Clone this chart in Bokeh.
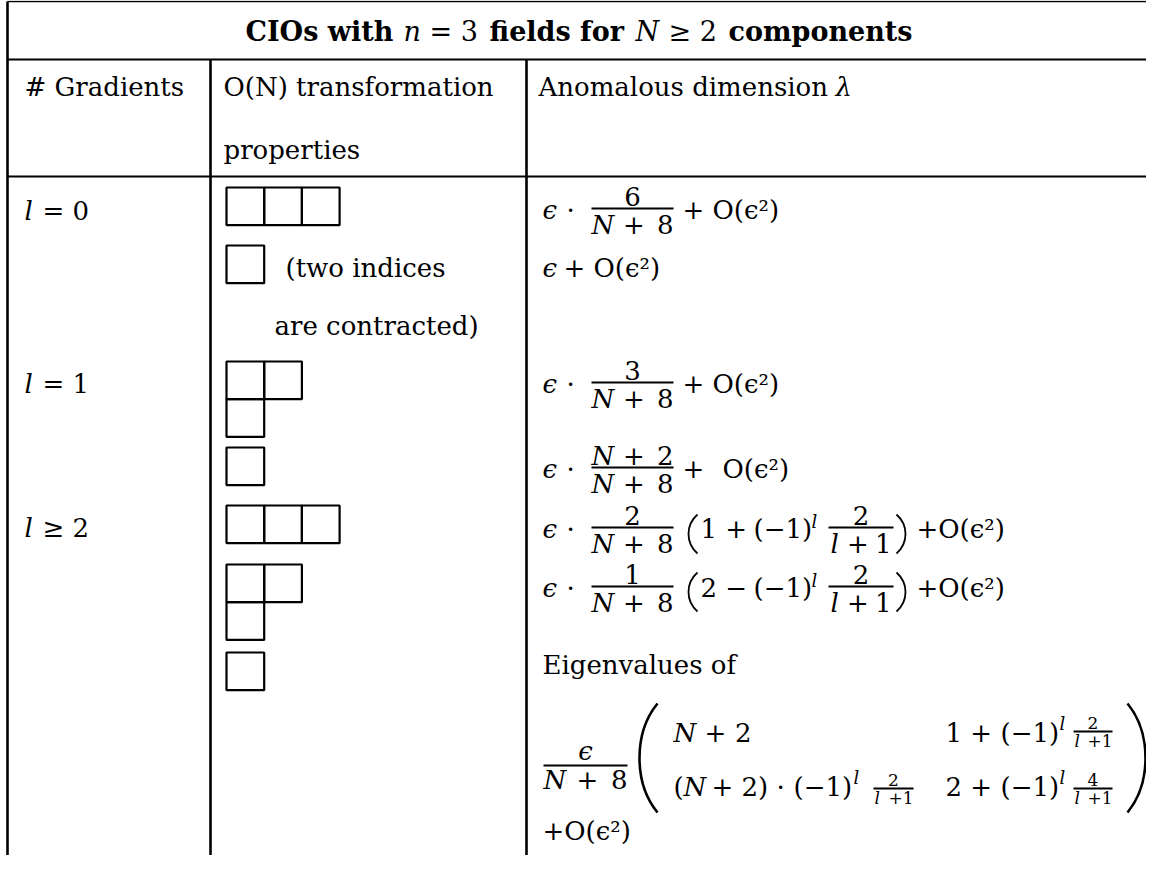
from bokeh.plotting import figure
from bokeh.models import Range1d, ColumnDataSource
from bokeh.core.properties import value, field
from bokeh.embed import file_html
from bokeh.resources import INLINE

# ---------------- table content ----------------
TITLE_PARTS = ["CIOs with", "n", "= 3", "fields for", "N", "≥ 2", "components"]
HEADERS = ["# Gradients", "O(N) transformation", "properties", "Anomalous dimension", "λ"]
GRAD_VAR = "l"
GRAD_RELATIONS = ["= 0", "= 1", "≥ 2"]
YOUNG_SHAPES = [[3], [1], [2, 1], [1], [3], [2, 1], [1]]
NOTE_LINES = ["(two indices", "are contracted)"]
EPS = "ϵ"
CDOT = "·"
PLUS_ORDER = "+ O(ϵ²)"
ORDER = "O(ϵ²)"
PLUS = "+"
PLUS_ORDER_TIGHT = "+O(ϵ²)"
LEAD_NUMERATORS = ["6", "3", "N + 2", "2", "1"]
DENOM = "N + 8"
PAREN_HEADS = ["1 +", "2 −"]
SIGN = "(−1)"
SUP = "l"
INNER_NUM = "2"
INNER_DEN = "l + 1"
EIGEN_TEXT = "Eigenvalues of"
MATRIX_R1 = ["N + 2", "1 +", "2"]
MATRIX_R2 = ["(", "N + 2)", "·", "2", "2 +", "4"]
SMALL_DEN_REST = "+1"

# ---------------- layout (pixel space of the picture) ----------------
W, H = 1146, 855
FONT = "DejaVu Serif"
BODY = 26
TITLE = 27
SUPSZ = 18
SMALL = 17
NUM_GAP = 4
BASE_SHIFT = 0.3  # renderer places glyphs slightly below the requested baseline

segs = []


def put(x, y, t, style="normal", size=BODY, align="left"):
    segs.append((x, y, t, style, size, align))


bars = []      # fraction rules: x0, x1, y
parens = []    # (x_end, x_ctrl, y_top, y_bottom)


def bar(x0, x1, y):
    bars.append((x0, x1, y))


def binexpr(expr, y, x_var, x_op, x_right, size=BODY):
    """'N + 8' style expression: italic variable, operator, right-aligned rest."""
    var, op, rest = expr.split(" ", 2)
    put(x_var, y, var, "italic", size)
    put(x_op, y, op, "normal", size, "center")
    put(x_right, y, rest, "normal", size, "right")


# title (segments laid out left to right)
tx = [245, 403, 429, 489, 635, 668, 728]
tst = ["bold", "italic", "normal", "bold", "italic", "normal", "bold"]
for x, t, s in zip(tx, TITLE_PARTS, tst):
    put(x, 39, t, s, TITLE)

# header row
put(24, 94, HEADERS[0])
put(223, 94, HEADERS[1])
put(223, 157, HEADERS[2])
put(538, 94, HEADERS[3])
put(835, 94, HEADERS[4], "italic")

# gradient labels
for yb, rel in zip([218, 391, 535], GRAD_RELATIONS):
    put(24, yb, GRAD_VAR, "italic")
    put(42, yb, rel)

# note
put(285, 275, NOTE_LINES[0])
put(274, 333, NOTE_LINES[1])


def lead(bar_y, num):
    main = bar_y + 9
    put(542, main, EPS, "italic")
    put(566, main, CDOT)
    bar(591, 673, bar_y)
    if num.startswith("N"):
        binexpr(num, bar_y - NUM_GAP, 591, 633.5, 673)
    else:
        put(632, bar_y - NUM_GAP, num, "normal", BODY, "center")
    binexpr(DENOM, bar_y + 24, 591, 633.5, 673)
    return main


m = lead(208, LEAD_NUMERATORS[0])
put(682, m, PLUS_ORDER)
put(542, 275, EPS, "italic")
put(563, 275, PLUS_ORDER)
m = lead(382, LEAD_NUMERATORS[1])
put(682, m, PLUS_ORDER)
m = lead(467, LEAD_NUMERATORS[2])
put(682, m, PLUS)
put(722, m, ORDER)


def paren_line(bar_y, num, head, p_top, p_bot):
    m = lead(bar_y, num)
    parens.append((697, 685, p_top, p_bot))
    put(700, m, head)
    put(753, m, SIGN)
    put(811, m - 10, SUP, "italic", SUPSZ)
    bar(828, 893, bar_y)
    put(860.5, bar_y - NUM_GAP, INNER_NUM, "normal", BODY, "center")
    binexpr(INNER_DEN, bar_y + 24, 830, 857.5, 891)
    parens.append((896, 908, p_top, p_bot))
    put(916, m, PLUS_ORDER_TIGHT)


paren_line(527, LEAD_NUMERATORS[3], PAREN_HEADS[0], 514, 553)
paren_line(586, LEAD_NUMERATORS[4], PAREN_HEADS[1], 572, 611)

put(542, 672, EIGEN_TEXT)

# matrix prefactor
bar(543, 627, 765)
put(585, 765 - 7, EPS, "italic", BODY, "center")
binexpr(DENOM, 787, 543, 587, 627)


def small_frac(x0, x1, bar_y, num):
    bar(x0, x1, bar_y)
    put((x0 + x1) / 2, bar_y - 3, num, "normal", SMALL, "center")
    put(x0 + 1, bar_y + 15, SUP, "italic", SMALL)
    put(x1, bar_y + 15, SMALL_DEN_REST, "normal", SMALL, "right")


r1, r2 = 740, 794
binexpr(MATRIX_R1[0], r1, 673, 715, 751)
put(945, r1, MATRIX_R1[1])
put(1000, r1, SIGN)
put(1059, r1 - 12, SUP, "italic", SUPSZ)
small_frac(1073, 1112, 731, MATRIX_R1[2])

put(673, r2, MATRIX_R2[0])
var2, op2, rest2 = MATRIX_R2[1].split(" ", 2)
put(683, r2, var2, "italic")
put(722, r2, op2, "normal", BODY, "center")
put(741, r2, rest2)
put(776, r2, MATRIX_R2[2])
put(793, r2, SIGN)
put(853, r2 - 12, SUP, "italic", SUPSZ)
small_frac(873, 913, 788, MATRIX_R2[3])
put(945, r2, MATRIX_R2[4])
put(1000, r2, SIGN)
put(1059, r2 - 12, SUP, "italic", SUPSZ)
small_frac(1073, 1112, 788, MATRIX_R2[5])

put(542, 838, PLUS_ORDER_TIGHT)

# big matrix parentheses
parens.append((657, 633, 703, 812))
parens.append((1127, 1151, 703, 812))

# ---------------- figure ----------------
p = figure(width=W, height=H, x_range=Range1d(0, W), y_range=Range1d(H, 0),
           output_backend="svg", toolbar_location=None,
           x_axis_location=None, y_axis_location=None, min_border=0)
p.grid.visible = False
p.outline_line_color = None
p.background_fill_color = "white"
p.border_fill_color = "white"

# rules of the table
h_y = [1, 59, 176]
h_w = [1.4, 2.0, 2.0]
for y, w in zip(h_y, h_w):
    p.segment(x0=[7], y0=[y], x1=[W], y1=[y], line_color="black", line_width=w)
v_x = [7, 210, 526]
v_top = [1, 59, 59]
for x, t in zip(v_x, v_top):
    p.segment(x0=[x], y0=[t], x1=[x], y1=[H], line_color="black", line_width=2.6)

# Young diagrams
BOX = 37.7
tops = [187, 245, 361, 447, 505, 564, 652]
L, R, T, B = [], [], [], []
for shape, top in zip(YOUNG_SHAPES, tops):
    for ri, n in enumerate(shape):
        for ci in range(n):
            L.append(226 + ci * BOX)
            R.append(226 + (ci + 1) * BOX)
            T.append(top + ri * BOX)
            B.append(top + (ri + 1) * BOX)
p.quad(left=L, right=R, top=T, bottom=B, fill_color=None, line_color="black", line_width=2.2)

# fraction bars
p.segment(x0=[b[0] for b in bars], y0=[b[2] for b in bars],
          x1=[b[1] for b in bars], y1=[b[2] for b in bars],
          line_color="black", line_width=1.8)

# parentheses drawn as curves
px_end = [q[0] for q in parens]
px_ctl = [q[1] for q in parens]
py_top = [q[2] for q in parens]
py_bot = [q[3] for q in parens]
py_c0 = [t + (b - t) * 0.27 for t, b in zip(py_top, py_bot)]
py_c1 = [t + (b - t) * 0.73 for t, b in zip(py_top, py_bot)]
p.bezier(x0=px_end, y0=py_top, x1=px_end, y1=py_bot,
         cx0=px_ctl, cy0=py_c0, cx1=px_ctl, cy1=py_c1,
         line_color="black", line_width=[2.6 if (b - t) > 60 else 1.8 for t, b in zip(py_top, py_bot)])

# texts
groups = {}
for x, y, t, st, sz, al in segs:
    groups.setdefault((st, al), []).append((x, y - BASE_SHIFT * sz, t, f"{sz:.1f}px"))
for (st, al), rows in groups.items():
    src = ColumnDataSource(dict(x=[r[0] for r in rows], y=[r[1] for r in rows],
                                text=[r[2] for r in rows], size=[r[3] for r in rows]))
    p.text(x="x", y="y", text="text", source=src, text_font=value(FONT),
           text_font_style=st, text_align=al, text_baseline="alphabetic",
           text_font_size=field("size"), text_color="black")

open("out.html", "w").write(file_html(p, INLINE))
